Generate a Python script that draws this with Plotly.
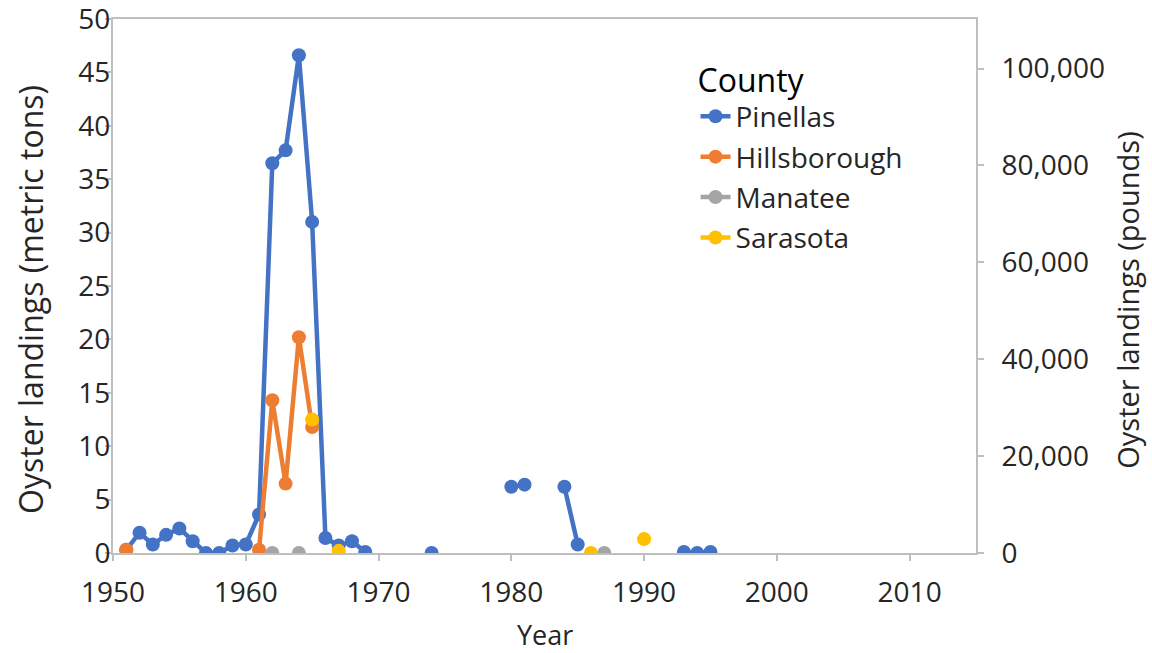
import plotly.graph_objects as go

years = list(range(1951, 1996))

pinellas = {1951: 0.3, 1952: 1.9, 1953: 0.8, 1954: 1.7, 1955: 2.3, 1956: 1.1, 1957: 0.0,
            1958: 0.0, 1959: 0.7, 1960: 0.8, 1961: 3.6, 1962: 36.5, 1963: 37.7, 1964: 46.6,
            1965: 31.0, 1966: 1.4, 1967: 0.7, 1968: 1.1, 1969: 0.1, 1974: 0.0, 1980: 6.2,
            1981: 6.4, 1984: 6.2, 1985: 0.8, 1993: 0.1, 1994: 0.0, 1995: 0.1}
hillsborough = {1951: 0.3, 1961: 0.3, 1962: 14.3, 1963: 6.5, 1964: 20.2, 1965: 11.8}
manatee = {1962: 0.0, 1964: 0.0, 1987: 0.0}
sarasota = {1965: 12.5, 1967: 0.2, 1986: 0.0, 1990: 1.3}

series_names = ["Pinellas", "Hillsborough", "Manatee", "Sarasota"]
series_data = [pinellas, hillsborough, manatee, sarasota]
colors = ["#4472C4", "#ED7D31", "#A5A5A5", "#FFC000"]

LBS_PER_TON = 2204.62
y_max = 50
x_ticks = [1950, 1960, 1970, 1980, 1990, 2000, 2010]
y2_ticks = [0, 20000, 40000, 60000, 80000, 100000]

FONT = "Open Sans"
TXT = "#262626"
AX = "#BFBFBF"

fig = go.Figure()
for i, (name, d, c) in enumerate(zip(series_names, series_data, colors)):
    fig.add_trace(go.Scatter(
        x=years, y=[d.get(yr) for yr in years], name=name,
        mode="lines+markers", connectgaps=False,
        line=dict(color=c, width=4.5),
        marker=dict(color=c, size=14),
        legendgroup=f"g{i}",
    ))
# invisible trace for right axis
fig.add_trace(go.Scatter(x=[1950], y=[0], yaxis="y2", showlegend=False,
                         mode="markers", marker=dict(opacity=0), hoverinfo="skip"))

axis_common = dict(showgrid=False, zeroline=False, showline=True, linecolor=AX,
                   linewidth=2, ticks="outside", ticklen=6, tickcolor=AX, tickwidth=2,
                   automargin=False, ticklabeloverflow="allow",
                   tickfont=dict(size=28, color=TXT))

fig.update_layout(
    width=1152, height=653,
    margin=dict(l=113, r=176, t=19, b=100),
    paper_bgcolor="white", plot_bgcolor="white",
    font=dict(family=FONT, size=28, color=TXT),
    xaxis=dict(range=[1950, 2015], tickvals=x_ticks, mirror=True,
               ticklabelstandoff=7, **axis_common),
    yaxis=dict(range=[0, y_max], dtick=5, mirror=True,
               ticklabelstandoff=-11, **axis_common),
    yaxis2=dict(range=[0, y_max * LBS_PER_TON], tickvals=y2_ticks, tickformat=",",
                overlaying="y", side="right", ticklabelstandoff=12, **axis_common),
    legend=dict(x=0.675, y=0.942, xanchor="left", yanchor="top",
                title=dict(text="County", font=dict(size=32, color="#000000")),
                font=dict(size=28, color=TXT), tracegroupgap=1,
                bgcolor="rgba(0,0,0,0)"),
    showlegend=True,
    annotations=[
        dict(text="Year", xref="paper", yref="paper", x=0.5006, y=-0.153,
             xanchor="center", yanchor="middle", showarrow=False,
             font=dict(size=27, color=TXT)),
        dict(text="Oyster landings (metric tons)", xref="paper", yref="paper",
             x=-0.095, y=0.474, textangle=-90, xanchor="center", yanchor="middle",
             showarrow=False, font=dict(size=32, color=TXT)),
        dict(text="Oyster landings (pounds)", xref="paper", yref="paper",
             x=1.176, y=0.474, textangle=-90, xanchor="center", yanchor="middle",
             showarrow=False, font=dict(size=29, color=TXT)),
    ],
)

fig.write_html("out.html", config={"displayModeBar": False},
               post_script="document.body.style.margin='0';")
